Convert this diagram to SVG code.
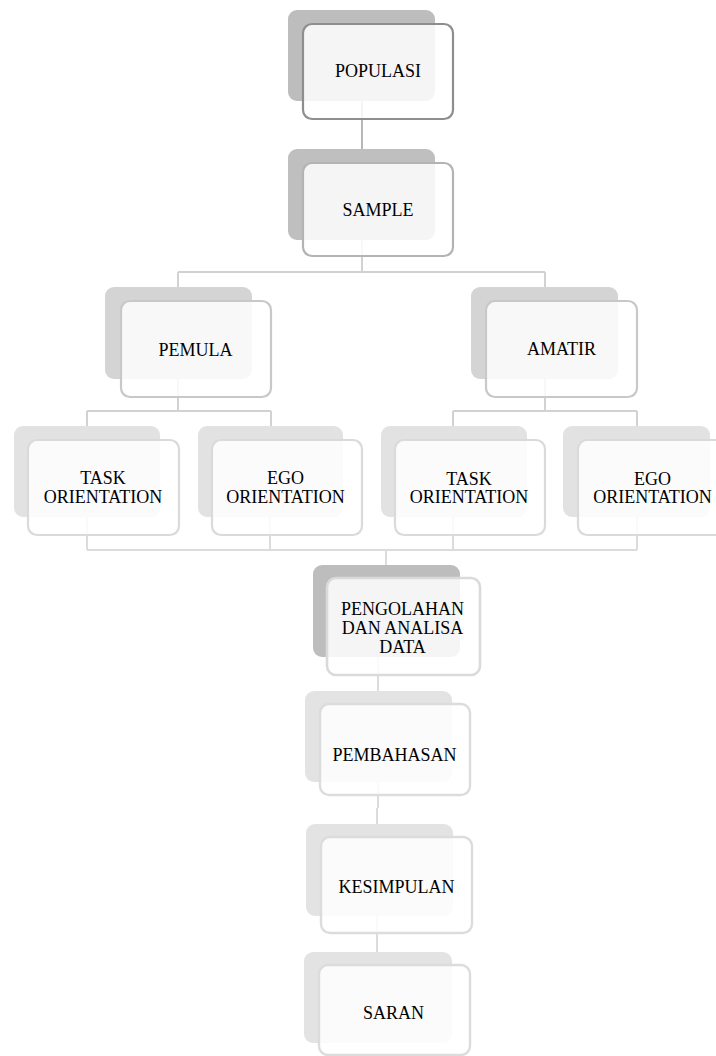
<svg xmlns="http://www.w3.org/2000/svg" width="716" height="1056" viewBox="0 0 716 1056">
<style>
.bg{fill:#ffffff}
.conn{fill:none;stroke:#d2d2d2;stroke-width:2}
.conn0{stroke:#b8b8b8}
.conn3{stroke:#dcdcdc}
.back{stroke:none}
.front{fill:#ffffff;fill-opacity:0.84;stroke-width:2.2}
.l0 .back{fill:#bdbdbd}.l0 .front{stroke:#8e8e8e}
.l1 .back{fill:#bfbfbf}.l1 .front{stroke:#b3b3b3}
.l2 .back{fill:#d4d4d4}.l2 .front{stroke:#c8c8c8}
.l3 .back{fill:#e2e2e2}.l3 .front{stroke:#dadada}
.l4 .back{fill:#bdbdbd}.l4 .front{stroke:#dadada;stroke-width:2.6}
.l5 .back{fill:#e3e3e3}.l5 .front{stroke:#dcdcdc;stroke-width:2.4}
text{font-size:18px;fill:#000;text-anchor:middle}
</style>
<rect class="bg" x="0" y="0" width="716" height="1056"/>
<g id="connectors">
<path class="conn conn0" d="M362 101V149"/>
<path class="conn" d="M362 240V272M178 272H545M178 272V287M545 272V287"/>
<path class="conn" d="M178 379V411M87 411H271M87 411V426M271 411V426"/>
<path class="conn" d="M545 379V411M453 411H637M453 411V426M637 411V426"/>
<path class="conn conn3" d="M87 517V550M270 517V550M453 517V550M637 517V550M87 550H637M386 550V565"/>
<path class="conn conn3" d="M378 657V691M378 782V808M377 808V824M377 916V952"/>
</g>
<g id="nodes" font-family="'Liberation Serif', 'Times New Roman', Times, serif">
<g id="node-populasi" class="l0">
<rect class="back" x="288" y="10" width="147" height="91" rx="9"/>
<rect class="front" x="303" y="24" width="150" height="95" rx="9"/>
<text x="378" y="77">POPULASI</text>
</g>
<g id="node-sample" class="l1">
<rect class="back" x="288" y="149" width="147" height="91" rx="9"/>
<rect class="front" x="303" y="163" width="150" height="93" rx="9"/>
<text x="378" y="216">SAMPLE</text>
</g>
<g id="node-pemula" class="l2">
<rect class="back" x="105" y="287" width="147" height="92" rx="9"/>
<rect class="front" x="121" y="301" width="150" height="96" rx="9"/>
<text x="195.5" y="356">PEMULA</text>
</g>
<g id="node-amatir" class="l2">
<rect class="back" x="471" y="287" width="147" height="92" rx="9"/>
<rect class="front" x="486" y="301" width="151" height="96" rx="9"/>
<text x="561.5" y="355">AMATIR</text>
</g>
<g id="node-task-1" class="l3">
<rect class="back" x="14" y="426" width="146" height="91" rx="9"/>
<rect class="front" x="28" y="440" width="151" height="95" rx="9"/>
<text x="103" y="484">TASK</text>
<text x="103" y="503">ORIENTATION</text>
</g>
<g id="node-ego-1" class="l3">
<rect class="back" x="198" y="426" width="145" height="91" rx="9"/>
<rect class="front" x="212" y="440" width="150" height="95" rx="9"/>
<text x="285.5" y="484">EGO</text>
<text x="285.5" y="503">ORIENTATION</text>
</g>
<g id="node-task-2" class="l3">
<rect class="back" x="381" y="426" width="146" height="91" rx="9"/>
<rect class="front" x="395" y="440" width="150" height="95" rx="9"/>
<text x="469" y="485">TASK</text>
<text x="469" y="503">ORIENTATION</text>
</g>
<g id="node-ego-2" class="l3">
<rect class="back" x="563" y="426" width="147" height="91" rx="9"/>
<rect class="front" x="578" y="440" width="150" height="95" rx="9"/>
<text x="652.5" y="485">EGO</text>
<text x="652.5" y="503">ORIENTATION</text>
</g>
<g id="node-pengolahan" class="l4">
<rect class="back" x="313" y="565" width="147" height="92" rx="9"/>
<rect class="front" x="327" y="578" width="153" height="97" rx="9"/>
<text x="402.5" y="615">PENGOLAHAN</text>
<text x="402.5" y="634">DAN ANALISA</text>
<text x="402.5" y="653">DATA</text>
</g>
<g id="node-pembahasan" class="l5">
<rect class="back" x="305" y="691" width="147" height="91" rx="9"/>
<rect class="front" x="320" y="704" width="150" height="91" rx="9"/>
<text x="394.5" y="761">PEMBAHASAN</text>
</g>
<g id="node-kesimpulan" class="l5">
<rect class="back" x="306" y="824" width="147" height="92" rx="9"/>
<rect class="front" x="321" y="837" width="151" height="96" rx="9"/>
<text x="396.5" y="893">KESIMPULAN</text>
</g>
<g id="node-saran" class="l5">
<rect class="back" x="304" y="952" width="148" height="91" rx="9"/>
<rect class="front" x="319" y="965" width="151" height="90" rx="9"/>
<text x="393.5" y="1019">SARAN</text>
</g>
</g>
</svg>
